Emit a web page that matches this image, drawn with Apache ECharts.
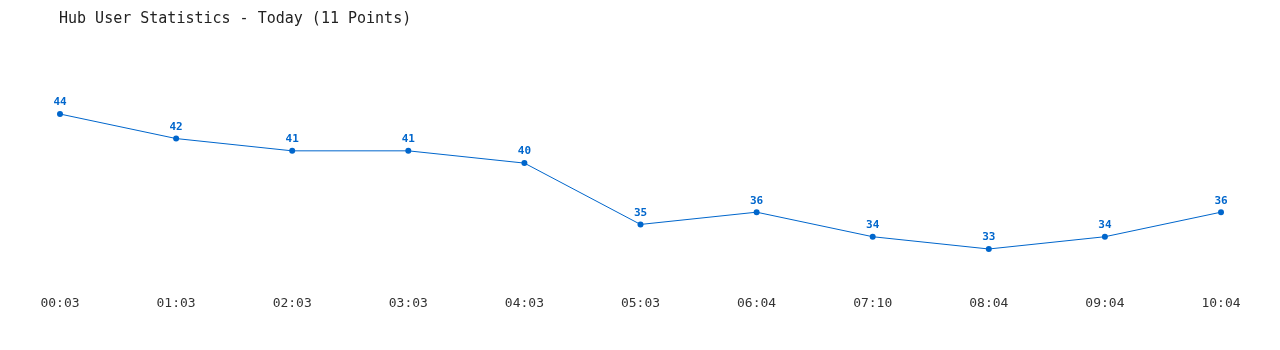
<!DOCTYPE html>
<html>
<head>
<meta charset="utf-8">
<script src="https://cdn.jsdelivr.net/npm/echarts@6/dist/echarts.min.js"></script>
<style>html,body{margin:0;padding:0;background:#fff}#c{width:1280px;height:350px}</style>
</head>
<body>
<div id="c"></div>
<script>
const categories = ["00:03","01:03","02:03","03:03","04:03","05:03","06:04","07:10","08:04","09:04","10:04"];
const users = [44,42,41,41,40,35,36,34,33,34,36];
const titleText = "Hub User Statistics - Today (11 Points)";
const font = "'DejaVu Sans Mono', 'Liberation Mono', monospace";
const chart = echarts.init(document.getElementById('c'), null, {renderer: 'canvas'});
chart.setOption({
  animation: false,
  backgroundColor: '#ffffff',
  title: {
    text: titleText, left: 54, top: 7,
    textStyle: {fontFamily: font, fontSize: 15, fontWeight: 'normal', color: '#222'}
  },
  grid: {left: 60, right: 59, top: 40.4, bottom: 64.2},
  xAxis: {
    type: 'category', data: categories, boundaryGap: false,
    axisLine: {show: false}, axisTick: {show: false}, splitLine: {show: false},
    axisLabel: {fontFamily: font, fontSize: 13, color: '#333', margin: 11}
  },
  yAxis: {type: 'value', min: 30, max: 50, show: false, splitLine: {show: false}},
  series: [{
    type: 'line', data: users, symbol: 'circle', symbolSize: 6,
    lineStyle: {color: '#0066cc', width: 1},
    itemStyle: {color: '#0066cc'},
    label: {show: true, position: 'top', distance: 3, fontFamily: font, fontSize: 11, fontWeight: 'bold', color: '#0066cc'}
  }]
});
</script>
</body>
</html>
